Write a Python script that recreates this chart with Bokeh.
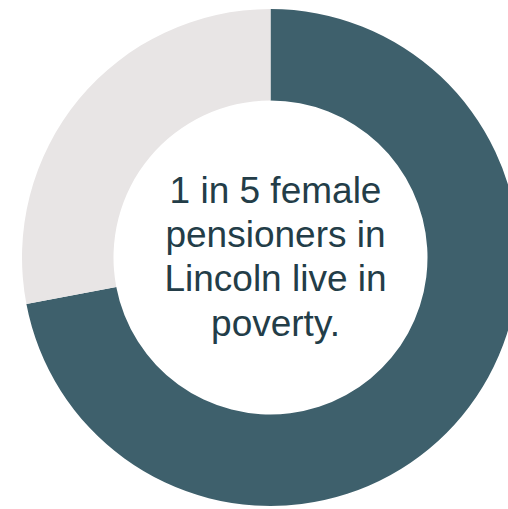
import numpy as np
from bokeh.plotting import figure
from bokeh.models import Range1d, ColumnDataSource
from bokeh.core.properties import value
from bokeh.embed import file_html
from bokeh.resources import INLINE

categories = ["Not in poverty", "In poverty"]
shares = [72, 28]
colors = ["#3e606c", "#e8e5e5"]
text_lines = ["1 in 5 female", "pensioners in", "Lincoln live in", "poverty."]

W, H = 508, 509
p = figure(width=W, height=H, output_backend="svg", toolbar_location=None,
           x_range=Range1d(0, W), y_range=Range1d(0, H), min_border=0)
p.axis.visible = False
p.grid.visible = False
p.outline_line_color = None
p.background_fill_color = "white"
p.border_fill_color = "white"

cx, cy = 270, 252
frac = np.array(shares, dtype=float) / sum(shares)
cum = np.concatenate([[0], np.cumsum(frac)])
starts = np.pi / 2 - 2 * np.pi * cum[:-1]
ends = np.pi / 2 - 2 * np.pi * cum[1:]
src = ColumnDataSource(dict(x=[cx] * len(shares), y=[cy] * len(shares),
                            start=starts, end=ends, color=colors, cat=categories))
p.annular_wedge(x="x", y="y", inner_radius=157, outer_radius=248.5,
                start_angle="start", end_angle="end", direction="clock",
                fill_color="color", line_color=None, source=src)

ys = [319, 275, 231, 186]
p.text(x=[275] * len(text_lines), y=ys, text=text_lines,
       text_font=value("Liberation Sans"), text_font_size="37px",
       text_color="#233d48", text_align="center", text_baseline="alphabetic")

open("out.html", "w").write(file_html(p, INLINE))
